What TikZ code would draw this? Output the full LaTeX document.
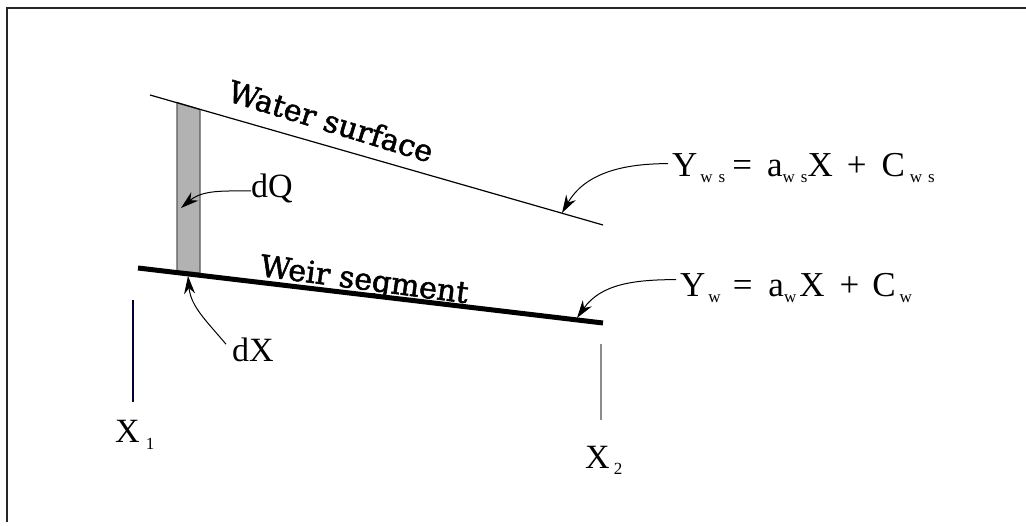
\documentclass[tikz,border=0pt]{standalone}
\usepackage{fontspec}
\setmainfont{Liberation Serif}
\newfontfamily\slopefont[FakeBold=1.8]{DejaVu Serif}
\usetikzlibrary{arrows.meta}
\newcommand\lsub[1]{\raisebox{-6pt}{\fontsize{17}{17}\selectfont #1}}
\newcommand\hs[1]{\hspace*{#1pt}}
\tikzset{
  frame/.style={line width=1.6pt, draw=black!85},
  thinline/.style={line width=1.2pt},
  weirline/.style={line width=5pt},
  pointer/.style={line width=1pt, -{Stealth[length=18pt,width=11pt]}},
  lbl/.style={font=\fontsize{34}{34}\selectfont, inner sep=0pt},
  eqn/.style={font=\fontsize{35}{35}\selectfont, inner sep=0pt, anchor=base west},
  slopelbl/.style={font=\fontsize{30}{30}\slopefont, inner sep=0pt},
  marker/.style={line width=1.2pt}
}
\begin{document}
\begin{tikzpicture}[x=1pt,y=-1pt]
\useasboundingbox (0,0) rectangle (1026,526);
% frame
\draw[frame] (1026,8) -- (7,8) -- (7,522);
% lines
\coordinate (ws1) at (150,95);
\coordinate (ws2) at (603,225);
\coordinate (w1) at (138,268);
\coordinate (w2) at (603,323);
% strip
\filldraw[fill=black!30, draw=black!65, line width=1.2pt] (177,102.5) -- (200,109.5) -- (200,273) -- (177,271) -- cycle;
\draw[thinline] (ws1) -- (ws2);
\draw[weirline] (w1) -- (w2);
% labels on lines
\node[slopelbl, rotate=-17] (wsl) at (331,121) {Water surface};
\node[slopelbl, rotate=-7.5] (wl) at (364,282) {Weir segment};
% dQ
\node[lbl, anchor=base west] (dQ) at (251,198) {dQ};
\coordinate (dQt) at (181,208);
\draw[pointer] ([yshift=-2pt]dQ.west) to[out=180,in=40] (dQt);
% dX
\node[lbl, anchor=base west] (dX) at (232,362) {dX};
\coordinate (dXt) at (188,276);
\draw[pointer] ([xshift=-6pt,yshift=-6pt]dX.north west) to[out=130,in=-85] (dXt);
% equations
\node[eqn] (eq1) at (672,177) {Y\hs{3}\lsub{w\hs{6}s}\hs{7}=\hs{15}a\lsub{w\hs{6}s}X\hs{14}+\hs{15}C\hs{5}\lsub{w\hs{6}s}};
\coordinate (eq1t) at (562,213);
\draw[pointer] ([xshift=-4pt,yshift=-10pt]eq1.north west) to[out=180,in=60] (eq1t);
\node[eqn] (eq2) at (680,297) {Y\hs{3}\lsub{w}\hs{12}=\hs{16}a\lsub{w}\hs{3}X\hs{15}+\hs{13}C\hs{4}\lsub{w}};
\coordinate (eq2t) at (577,318);
\draw[pointer] ([xshift=-4pt,yshift=-6pt]eq2.north west) to[out=180,in=55] (eq2t);
% X markers
\coordinate (m1a) at (133,300);
\coordinate (m1b) at (133,402);
\draw[marker, draw=black!80!blue] (m1a) -- (m1b);
\node[lbl, anchor=base west] (X1) at (115,443) {X\hs{6}\lsub{1}};
\coordinate (m2a) at (601,344);
\coordinate (m2b) at (601,420);
\draw[marker, draw=black!45] (m2a) -- (m2b);
\node[lbl, anchor=base west] (X2) at (585,468) {X\hs{4}\lsub{2}};
\end{tikzpicture}
\end{document}
